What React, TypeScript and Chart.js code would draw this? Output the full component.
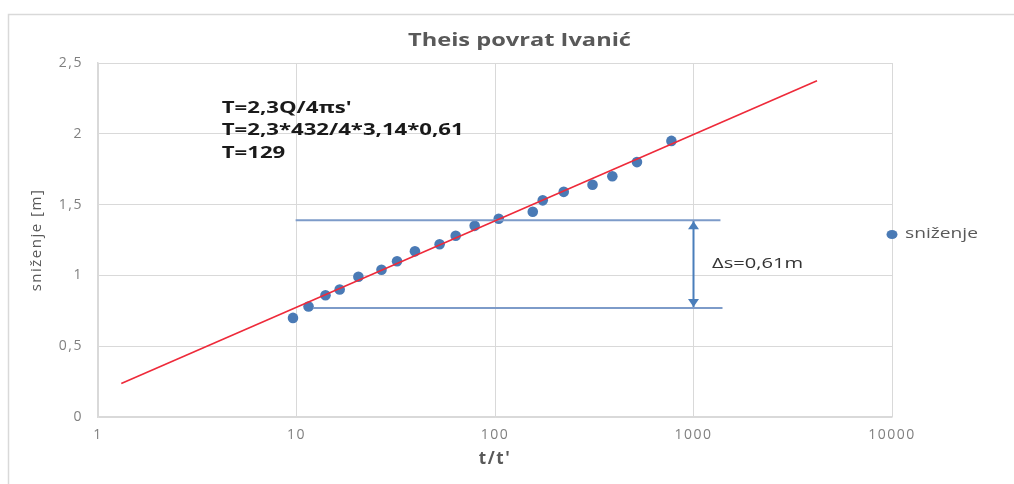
import React, { useEffect, useRef } from "react";
import { Chart, registerables } from "chart.js";

Chart.register(...registerables);

// t/t' values and drawdown (sniženje)
const ratioT = [9.6, 11.5, 14.0, 16.5, 20.5, 26.8, 32.1, 39.5, 52.6, 63.4, 79, 104.4, 155, 174, 222, 310, 390, 519, 774];
const snizenje = [0.70, 0.78, 0.86, 0.90, 0.99, 1.04, 1.10, 1.17, 1.22, 1.28, 1.35, 1.40, 1.45, 1.53, 1.59, 1.64, 1.70, 1.80, 1.95];

// fitted straight line (semi-log)
const trendX = [1.31, 4190];
const trendY = [0.236, 2.375];

// construction lines for Δs
const upperLineX = [9.9, 1367];
const upperLineY = [1.39, 1.39];
const lowerLineX = [12.1, 1400];
const lowerLineY = [0.77, 0.77];
const arrowX = [1000, 1000];
const arrowY = [1.39, 0.77];

const xTicks = [1, 10, 100, 1000, 10000];
const yTicks = [0, 0.5, 1, 1.5, 2, 2.5];

const chartTitle = "Theis povrat Ivanić";
const formulaLines = ["T=2,3Q/4πs'", "T=2,3*432/4*3,14*0,61", "T=129"];
const deltaLabel = "Δs=0,61m";
const seriesName = "sniženje";
const xTitle = "t/t'";
const yTitle = "sniženje [m]";

const FONT = "'Open Sans', 'DejaVu Sans', sans-serif";

const zip = (xs: number[], ys: number[]) => xs.map((x, i) => ({ x, y: ys[i] }));

// draw text stretched horizontally to a given width
function wideText(ctx: any, text: string, x: number, y: number, width: number, align: string) {
  const w = ctx.measureText(text).width;
  const sx = width / w;
  ctx.save();
  ctx.textAlign = "left";
  let x0 = x;
  if (align === "center") x0 = x - width / 2;
  ctx.translate(x0, y);
  ctx.scale(sx, 1);
  ctx.fillText(text, 0, 0);
  ctx.restore();
  return sx;
}

export default function App() {
  const ref = useRef<HTMLCanvasElement | null>(null);

  useEffect(() => {
    if (!ref.current) return;

    const decor = {
      id: "decor",
      beforeDraw(chart: any) {
        chart.ctx.letterSpacing = "1.5px";
      },
      beforeDatasetsDraw(chart: any) {
        chart.ctx.letterSpacing = "0px";
      },
      afterDraw(chart: any) {
        const ctx = chart.ctx;
        const xs = chart.scales.x;
        const ys = chart.scales.y;
        ctx.save();
        ctx.letterSpacing = "0px";
        // outer frame
        ctx.strokeStyle = "#d9d9d9";
        ctx.lineWidth = 1.5;
        ctx.beginPath();
        ctx.moveTo(8.5, 500);
        ctx.lineTo(8.5, 14.5);
        ctx.lineTo(1020, 14.5);
        ctx.stroke();

        ctx.textBaseline = "middle";

        // title
        ctx.fillStyle = "#595959";
        ctx.font = `bold 17px ${FONT}`;
        wideText(ctx, chartTitle, 519.5, 41, 223, "center");

        // formula annotation
        ctx.fillStyle = "#1a1a1a";
        ctx.font = `bold 16px ${FONT}`;
        const fx = xs.getPixelForValue(4.2);
        const fy = ys.getPixelForValue(2.18);
        const sx = 242 / ctx.measureText(formulaLines[1]).width;
        formulaLines.forEach((t, i) => {
          const w = ctx.measureText(t).width * sx;
          wideText(ctx, t, fx, fy + i * 22.5, w, "left");
        });

        // Δs label
        ctx.fillStyle = "#333333";
        ctx.font = `15px ${FONT}`;
        wideText(ctx, deltaLabel, xs.getPixelForValue(1240), ys.getPixelForValue(1.08), 91, "left");

        // arrowheads
        const ax = xs.getPixelForValue(arrowX[0]);
        const aTop = ys.getPixelForValue(arrowY[0]);
        const aBot = ys.getPixelForValue(arrowY[1]);
        ctx.fillStyle = "#4a7ebb";
        ctx.beginPath();
        ctx.moveTo(ax, aTop + 1);
        ctx.lineTo(ax - 5.5, aTop + 9);
        ctx.lineTo(ax + 5.5, aTop + 9);
        ctx.closePath();
        ctx.fill();
        ctx.beginPath();
        ctx.moveTo(ax, aBot - 1);
        ctx.lineTo(ax - 5.5, aBot - 9);
        ctx.lineTo(ax + 5.5, aBot - 9);
        ctx.closePath();
        ctx.fill();

        // legend
        ctx.fillStyle = "#4a7ab5";
        ctx.beginPath();
        ctx.ellipse(892, 234.5, 5.5, 4.5, 0, 0, Math.PI * 2);
        ctx.fill();
        ctx.fillStyle = "#595959";
        ctx.font = `14px ${FONT}`;
        wideText(ctx, seriesName, 905, 234, 73, "left");
        ctx.restore();
      },
    };

    const chart = new Chart(ref.current, {
      type: "scatter",
      data: {
        datasets: [
          {
            label: "trend",
            data: zip(trendX, trendY),
            showLine: true,
            borderColor: "#ee2a3a",
            borderWidth: 1.6,
            pointRadius: 0,
          },
          {
            label: "upper",
            data: zip(upperLineX, upperLineY),
            showLine: true,
            borderColor: "#7d9bc9",
            borderWidth: 2,
            pointRadius: 0,
          },
          {
            label: "lower",
            data: zip(lowerLineX, lowerLineY),
            showLine: true,
            borderColor: "#7d9bc9",
            borderWidth: 2,
            pointRadius: 0,
          },
          {
            label: "arrow",
            data: zip(arrowX, arrowY),
            showLine: true,
            borderColor: "#4a7ebb",
            borderWidth: 2,
            pointRadius: 0,
          },
          {
            label: seriesName,
            data: zip(ratioT, snizenje),
            backgroundColor: "#4a7ab5",
            borderWidth: 0,
            pointRadius: 5.3,
          },
        ],
      },
      options: {
        responsive: false,
        animation: false,
        layout: { padding: { left: 23, right: 122, top: 63, bottom: 7 } },
        plugins: {
          legend: { display: false },
          title: { display: false },
          tooltip: { enabled: false },
        },
        scales: {
          x: {
            type: "logarithmic",
            min: 1,
            max: 10000,
            afterBuildTicks: (s: any) => {
              s.ticks = xTicks.map((v) => ({ value: v }));
            },
            afterFit: (s: any) => {
              s.height = 60;
            },
            ticks: {
              callback: (v: any) => String(v),
              color: "#808080",
              font: { family: FONT, size: 14 },
              padding: 10,
              maxRotation: 0,
            },
            grid: { color: "#d9d9d9", drawTicks: false },
            border: { color: "#d9d9d9", width: 1.5 },
            title: {
              display: true,
              text: xTitle,
              color: "#595959",
              font: { family: FONT, size: 17, weight: "bold" },
              padding: { top: 0, bottom: 8 },
            },
          },
          y: {
            type: "linear",
            min: 0,
            max: 2.5,
            afterBuildTicks: (s: any) => {
              s.ticks = yTicks.map((v) => ({ value: v }));
            },
            afterFit: (s: any) => {
              s.width = 75;
            },
            ticks: {
              callback: (v: any) => String(v).replace(".", ","),
              color: "#808080",
              font: { family: FONT, size: 14 },
              padding: 15,
            },
            grid: { color: "#d9d9d9", drawTicks: false },
            border: { color: "#d9d9d9", width: 1.5 },
            title: {
              display: true,
              text: yTitle,
              color: "#595959",
              font: { family: FONT, size: 15 },
              padding: { top: 5, bottom: 0 },
            },
          },
        },
      },
      plugins: [decor],
    });

    return () => chart.destroy();
  }, []);

  return (
    <div style={{ position: "absolute", left: 0, top: 0, width: 1014, height: 484, background: "#fff" }}>
      <canvas ref={ref} width={1014} height={484} />
    </div>
  );
}
